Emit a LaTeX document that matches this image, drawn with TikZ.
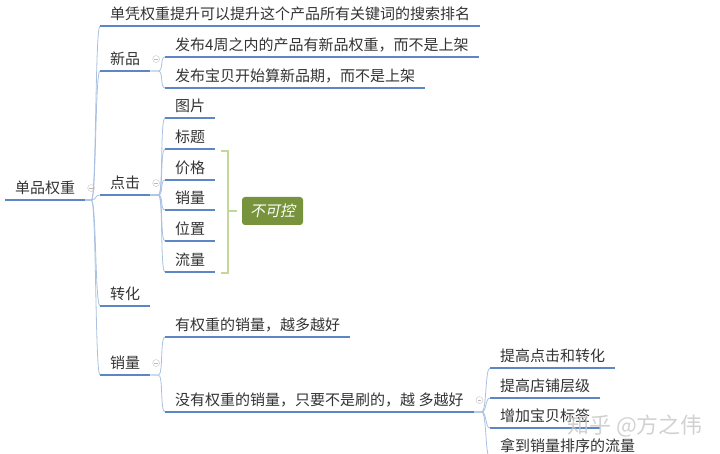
\documentclass[tikz,border=0pt]{standalone}
\usepackage{fontspec}
\setmainfont{Noto Sans CJK SC}
\newfontfamily\slantfont{Noto Sans CJK SC}[FakeSlant=0.2]
\usetikzlibrary{positioning}
\definecolor{barblue}{HTML}{5D87C4}
\definecolor{linkblue}{HTML}{A9C0E0}
\definecolor{tagolive}{HTML}{77933C}
\definecolor{bracegreen}{HTML}{C4D79B}
\definecolor{ink}{HTML}{333333}
\tikzset{
    topic/.style={anchor=south west,inner xsep=10pt,inner ysep=0pt,text height=17pt,text depth=6.5pt,font=\fontsize{15}{18}\selectfont,text=ink},
    bar/.style={draw=barblue,line width=2.2pt},
    link/.style={draw=linkblue,line width=0.8pt},
    fork/.style={out=0,in=180,distance=5pt},
    fold/.style={circle,draw=gray!40,line width=0.5pt,minimum size=7pt,inner sep=0pt,
        path picture={\draw[gray!55,line width=0.5pt] ([xshift=1.6pt]path picture bounding box.west) -- ([xshift=-1.6pt]path picture bounding box.east);}},
    brace/.style={draw=bracegreen,line width=2.8pt},
    tag/.style={rectangle,fill=tagolive,rounded corners=3pt,minimum width=61pt,minimum height=28pt,inner sep=0pt,outer sep=5pt,text=white,font=\fontsize{15}{18}\slantfont},
    wmark/.style={font=\fontsize{22}{26}\selectfont,text=gray!45,opacity=0.8},
}
\begin{document}
\begin{tikzpicture}[x=1pt,y=-1pt]
    \useasboundingbox (0,0) rectangle (720,454);
    \clip (0,0) rectangle (720,454);
    % root and first level
    \node[topic] (root) at (5,200) {单品权重};
    \node[fold, right=2pt of root] (rootf) {};
    \node[topic] (top) at (100,26) {单凭权重提升可以提升这个产品所有关键词的搜索排名};
    \node[topic] (xin) at (100,71) {新品};
    \node[fold, right=2pt of xin] (xinf) {};
    \node[topic] (dj) at (100,195) {点击};
    \node[fold, right=2pt of dj] (djf) {};
    \node[topic] (zh) at (100,306) {转化};
    \node[topic] (xl) at (100,375) {销量};
    \node[fold, right=2pt of xl] (xlf) {};
    % second level
    \node[topic] (xa) at (165,57) {发布4周之内的产品有新品权重，而不是上架};
    \node[topic] (xb) at (165,88) {发布宝贝开始算新品期，而不是上架};
    \node[topic] (tp) at (165,118) {图片};
    \node[topic] (bt) at (165,149) {标题};
    \node[topic] (jg) at (165,180) {价格};
    \node[topic] (xs) at (165,210) {销量};
    \node[topic] (wz) at (165,241) {位置};
    \node[topic] (ll) at (165,272) {流量};
    \node[topic] (yq) at (165,337) {有权重的销量，越多越好};
    \node[topic] (wq) at (165,412) {没有权重的销量，只要不是刷的，越 多越好};
    \node[fold, right=2pt of wq] (wqf) {};
    % third level
    \node[topic] (dz) at (490,368) {提高点击和转化};
    \node[topic] (dp) at (490,398) {提高店铺层级};
    \node[topic] (bq) at (490,428) {增加宝贝标签};
    \node[topic] (px) at (490,458) {拿到销量排序的流量};
    % not controllable
    \node[tag] (ctrl) at (272.5,211) {不可控};
    \coordinate (bk) at (228,211);
    \draw[brace] (221,151) -- (228,151) -- (228,273) -- (221,273);
    \draw[brace] (bk) -- (ctrl.west);
    % links
    \draw[link] (root.south east) -- +(6,0) to[fork] (top.south west);
    \draw[link] (root.south east) -- +(6,0) to[fork] (xin.south west);
    \draw[link] (root.south east) -- +(6,0) to[fork] (dj.south west);
    \draw[link] (root.south east) -- +(6,0) to[fork] (zh.south west);
    \draw[link] (root.south east) -- +(6,0) to[fork] (xl.south west);
    \draw[link] (xin.south east) -- +(8,0) to[fork] (xa.south west);
    \draw[link] (xin.south east) -- +(8,0) to[fork] (xb.south west);
    \draw[link] (dj.south east) -- +(8,0) to[fork] (tp.south west);
    \draw[link] (dj.south east) -- +(8,0) to[fork] (bt.south west);
    \draw[link] (dj.south east) -- +(8,0) to[fork] (jg.south west);
    \draw[link] (dj.south east) -- +(8,0) to[fork] (xs.south west);
    \draw[link] (dj.south east) -- +(8,0) to[fork] (wz.south west);
    \draw[link] (dj.south east) -- +(8,0) to[fork] (ll.south west);
    \draw[link] (xl.south east) -- +(8,0) to[fork] (yq.south west);
    \draw[link] (xl.south east) -- +(8,0) to[fork] (wq.south west);
    \draw[link] (wq.south east) -- +(8,0) to[fork] (dz.south west);
    \draw[link] (wq.south east) -- +(8,0) to[fork] (dp.south west);
    \draw[link] (wq.south east) -- +(8,0) to[fork] (bq.south west);
    \draw[link] (wq.south east) -- +(8,0) to[fork] (px.south west);
    % underlines
    \draw[bar] (root.south west) -- (root.south east);
    \draw[bar] (top.south west) -- (top.south east);
    \draw[bar] (xin.south west) -- (xin.south east);
    \draw[bar] (dj.south west) -- (dj.south east);
    \draw[bar] (zh.south west) -- (zh.south east);
    \draw[bar] (xl.south west) -- (xl.south east);
    \draw[bar] (xa.south west) -- (xa.south east);
    \draw[bar] (xb.south west) -- (xb.south east);
    \draw[bar] (tp.south west) -- (tp.south east);
    \draw[bar] (bt.south west) -- (bt.south east);
    \draw[bar] (jg.south west) -- (jg.south east);
    \draw[bar] (xs.south west) -- (xs.south east);
    \draw[bar] (wz.south west) -- (wz.south east);
    \draw[bar] (ll.south west) -- (ll.south east);
    \draw[bar] (yq.south west) -- (yq.south east);
    \draw[bar] (wq.south west) -- (wq.south east);
    \draw[bar] (dz.south west) -- (dz.south east);
    \draw[bar] (dp.south west) -- (dp.south east);
    \draw[bar] (bq.south west) -- (bq.south east);
    \draw[bar] (px.south west) -- (px.south east);
    % watermark
    \node[wmark] (wm) at (635,426) {知乎 @方之伟};
\end{tikzpicture}
\end{document}
